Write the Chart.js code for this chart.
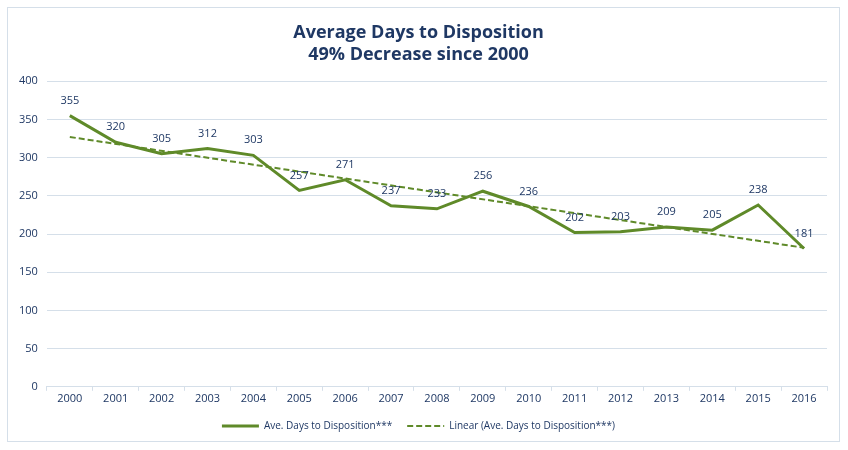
<!DOCTYPE html>
<html>
<head>
<meta charset="utf-8">
<script src="https://cdn.jsdelivr.net/npm/chart.js@4/dist/chart.umd.min.js"></script>
<style>
  html, body { margin: 0; padding: 0; background: #ffffff; }
  #frame { position: absolute; left: 7px; top: 7px; width: 833px; height: 435px; border: 1px solid #d5dfe9; box-sizing: border-box; }
  #wrap { position: absolute; left: 0; top: 0; width: 831px; height: 433px; }
</style>
</head>
<body>
<div id="frame"><div id="wrap"><canvas id="c"></canvas></div></div>
<script>
const years = ['2000','2001','2002','2003','2004','2005','2006','2007','2008','2009','2010','2011','2012','2013','2014','2015','2016'];
const avgDays = [355, 320, 305, 312, 303, 257, 271, 237, 233, 256, 236, 202, 203, 209, 205, 238, 181];
const trendEnds = [327, 182]; // at 2000 and 2016
const yTicks = [0, 50, 100, 150, 200, 250, 300, 350, 400];
const titleLines = ['Average Days to Disposition', '49% Decrease since 2000'];
const seriesNames = ['Ave. Days to Disposition***', 'Linear (Ave. Days to Disposition***)'];

const FONT = "'Open Sans', 'DejaVu Sans', sans-serif";
const GREEN = '#5f8a29';
const NAVY = '#1f3864';

const labelPlugin = {
  id: 'valueLabels',
  afterDatasetsDraw(chart) {
    const meta = chart.getDatasetMeta(0);
    const ctx = chart.ctx;
    ctx.save();
    ctx.font = "11px " + FONT;
    ctx.fillStyle = NAVY;
    ctx.textAlign = 'center';
    ctx.textBaseline = 'middle';
    meta.data.forEach((pt, i) => {
      ctx.fillText(String(avgDays[i]), pt.x, pt.y - 15);
    });
    ctx.restore();
  }
};

new Chart(document.getElementById('c'), {
  type: 'line',
  data: {
    labels: years,
    datasets: [
      {
        label: seriesNames[0],
        data: avgDays,
        borderColor: GREEN,
        backgroundColor: 'rgba(0,0,0,0)',
        borderWidth: 3,
        pointRadius: 0,
        tension: 0,
        order: 1
      },
      {
        label: seriesNames[1],
        data: [{x: years[0], y: trendEnds[0]}, {x: years[years.length - 1], y: trendEnds[1]}],
        borderColor: GREEN,
        backgroundColor: 'rgba(0,0,0,0)',
        borderWidth: 2,
        borderDash: [6, 3],
        pointRadius: 0,
        tension: 0,
        order: 2
      }
    ]
  },
  options: {
    responsive: true,
    maintainAspectRatio: false,
    animation: false,
    layout: { padding: { left: 2, right: 12, top: 8, bottom: 0 } },
    plugins: {
      title: {
        display: true,
        text: titleLines,
        color: NAVY,
        font: { family: FONT, size: 18, weight: 'bold', lineHeight: 1.2 },
        padding: { top: 6, bottom: 16 }
      },
      legend: {
        position: 'bottom',
        labels: {
          color: NAVY,
          font: { family: FONT, size: 10 },
          usePointStyle: true,
          pointStyle: 'line',
          pointStyleWidth: 37,
          boxHeight: 10,
          padding: 15,
          generateLabels(chart) {
            const items = Chart.defaults.plugins.legend.labels.generateLabels(chart);
            items.forEach(it => {
              const ds = chart.data.datasets[it.datasetIndex];
              it.pointStyle = 'line';
              it.strokeStyle = ds.borderColor;
              it.fillStyle = ds.borderColor;
              it.lineWidth = ds.borderWidth;
              it.lineDash = ds.borderDash || [];
            });
            return items;
          }
        }
      },
      tooltip: { enabled: false }
    },
    scales: {
      x: {
        type: 'category',
        offset: true,
        grid: { display: true, drawOnChartArea: false, drawTicks: true, tickLength: 4, color: '#d5dfe9', offset: true },
        border: { display: true, color: '#d5dfe9' },
        ticks: { color: NAVY, font: { family: FONT, size: 11 }, padding: 1, maxRotation: 0 }
      },
      y: {
        min: 0, max: 400,
        afterBuildTicks(axis) { axis.ticks = yTicks.map(v => ({ value: v })); },
        grid: { color: '#d5dfe9', drawTicks: false },
        border: { display: false },
        ticks: { color: NAVY, font: { family: FONT, size: 11 }, padding: 9 }
      }
    }
  },
  plugins: [labelPlugin]
});
</script>
</body>
</html>
